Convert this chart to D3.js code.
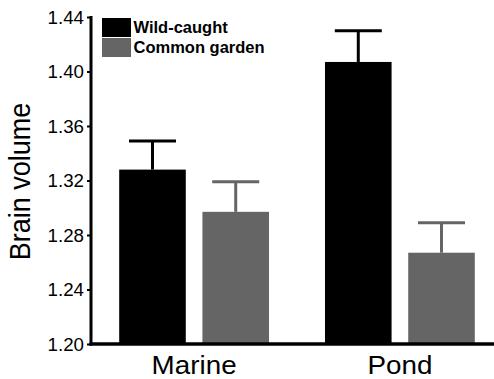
<!DOCTYPE html>
<html>
<head>
<meta charset="utf-8">
<script src="https://cdn.jsdelivr.net/npm/d3@7"></script>
<style>
  html, body { margin: 0; padding: 0; background: #fff; }
  svg { display: block; }
  text { font-family: "Liberation Sans", Arial, sans-serif; fill: #000; }
</style>
</head>
<body>
<svg id="chart" width="494" height="379"></svg>
<script>
// Brain volume by habitat and rearing condition (mean ± SE)
const habitats = ["Marine", "Pond"];
const groups = ["Wild-caught", "Common garden"];
const wildCaught = [1.328, 1.407];
const commonGarden = [1.297, 1.267];
const wildCaughtErr = [0.021, 0.023];
const commonGardenErr = [0.022, 0.022];
const yTicks = [1.20, 1.24, 1.28, 1.32, 1.36, 1.40, 1.44];
const groupColors = ["#000000", "#656565"];

const svg = d3.select("#chart");
const stretch = 1.07; // glyphs are set slightly wide

const y = d3.scaleLinear().domain([1.20, 1.44]).range([344, 17]);
const x0 = d3.scaleBand().domain(habitats).range([91, 503])
  .paddingInner(0.272).paddingOuter(0.137);
const x1 = d3.scaleBand().domain(groups).range([0, x0.bandwidth()])
  .paddingInner(0.2);
const color = d3.scaleOrdinal().domain(groups).range(groupColors);

const rows = [];
habitats.forEach((h, i) => {
  rows.push({ habitat: h, group: groups[0], value: wildCaught[i], err: wildCaughtErr[i] });
  rows.push({ habitat: h, group: groups[1], value: commonGarden[i], err: commonGardenErr[i] });
});

// bars
svg.append("g").selectAll("rect").data(rows).join("rect")
  .attr("x", d => x0(d.habitat) + x1(d.group))
  .attr("width", x1.bandwidth())
  .attr("y", d => y(d.value))
  .attr("height", d => y(1.20) - y(d.value))
  .attr("fill", d => color(d.group));

// error bars (upper half only)
const capHalf = x1.bandwidth() * 0.353;
const eb = svg.append("g").selectAll("g").data(rows).join("g")
  .attr("stroke", d => color(d.group))
  .attr("stroke-width", 3);
eb.append("line")
  .attr("x1", d => x0(d.habitat) + x1(d.group) + x1.bandwidth() / 2)
  .attr("x2", d => x0(d.habitat) + x1(d.group) + x1.bandwidth() / 2)
  .attr("y1", d => y(d.value))
  .attr("y2", d => y(d.value + d.err));
eb.append("line")
  .attr("x1", d => x0(d.habitat) + x1(d.group) + x1.bandwidth() / 2 - capHalf)
  .attr("x2", d => x0(d.habitat) + x1(d.group) + x1.bandwidth() / 2 + capHalf)
  .attr("y1", d => y(d.value + d.err))
  .attr("y2", d => y(d.value + d.err));

// y axis
const yAxis = svg.append("g").attr("transform", "translate(91,0)")
  .call(d3.axisLeft(y).tickValues(yTicks).tickFormat(d3.format(".2f"))
    .tickSize(4).tickPadding(7));
yAxis.select(".domain").attr("stroke", "#000").attr("stroke-width", 3)
  .attr("d", `M0,${y(1.44) - 1}V${y(1.20) + 1.5}`);
yAxis.selectAll(".tick line").attr("stroke", "#000").attr("stroke-width", 2);
yAxis.selectAll(".tick text")
  .attr("font-size", 17.5)
  .attr("fill", "#000")
  .attr("x", null).attr("dy", null)
  .each(function () {
    d3.select(this)
      .attr("transform", `translate(-7,6.2) scale(${stretch},1)`);
  });

// x axis
svg.append("line")
  .attr("x1", 89.5).attr("x2", x0.range()[1])
  .attr("y1", y(1.20)).attr("y2", y(1.20))
  .attr("stroke", "#000").attr("stroke-width", 3.5);

svg.append("g").selectAll("text").data(habitats).join("text")
  .attr("transform", d => `translate(${x0(d) + x0.bandwidth() / 2},374) scale(${stretch},1)`)
  .attr("text-anchor", "middle")
  .attr("font-size", 26)
  .text(d => d);

// y axis title
svg.append("text")
  .attr("transform", `translate(29.5,181.5) scale(${stretch},1) rotate(-90)`)
  .attr("text-anchor", "middle")
  .attr("font-size", 27)
  .text("Brain volume");

// legend
const legend = svg.append("g").selectAll("g").data(groups).join("g")
  .attr("transform", (d, i) => `translate(102,${18 + i * 20})`);
legend.append("rect")
  .attr("width", 29).attr("height", 19)
  .attr("fill", d => color(d));
legend.append("text")
  .attr("transform", `translate(31.5,15.3)`)
  .attr("font-size", 16.5)
  .attr("font-weight", "bold")
  .text(d => d);
</script>
</body>
</html>
